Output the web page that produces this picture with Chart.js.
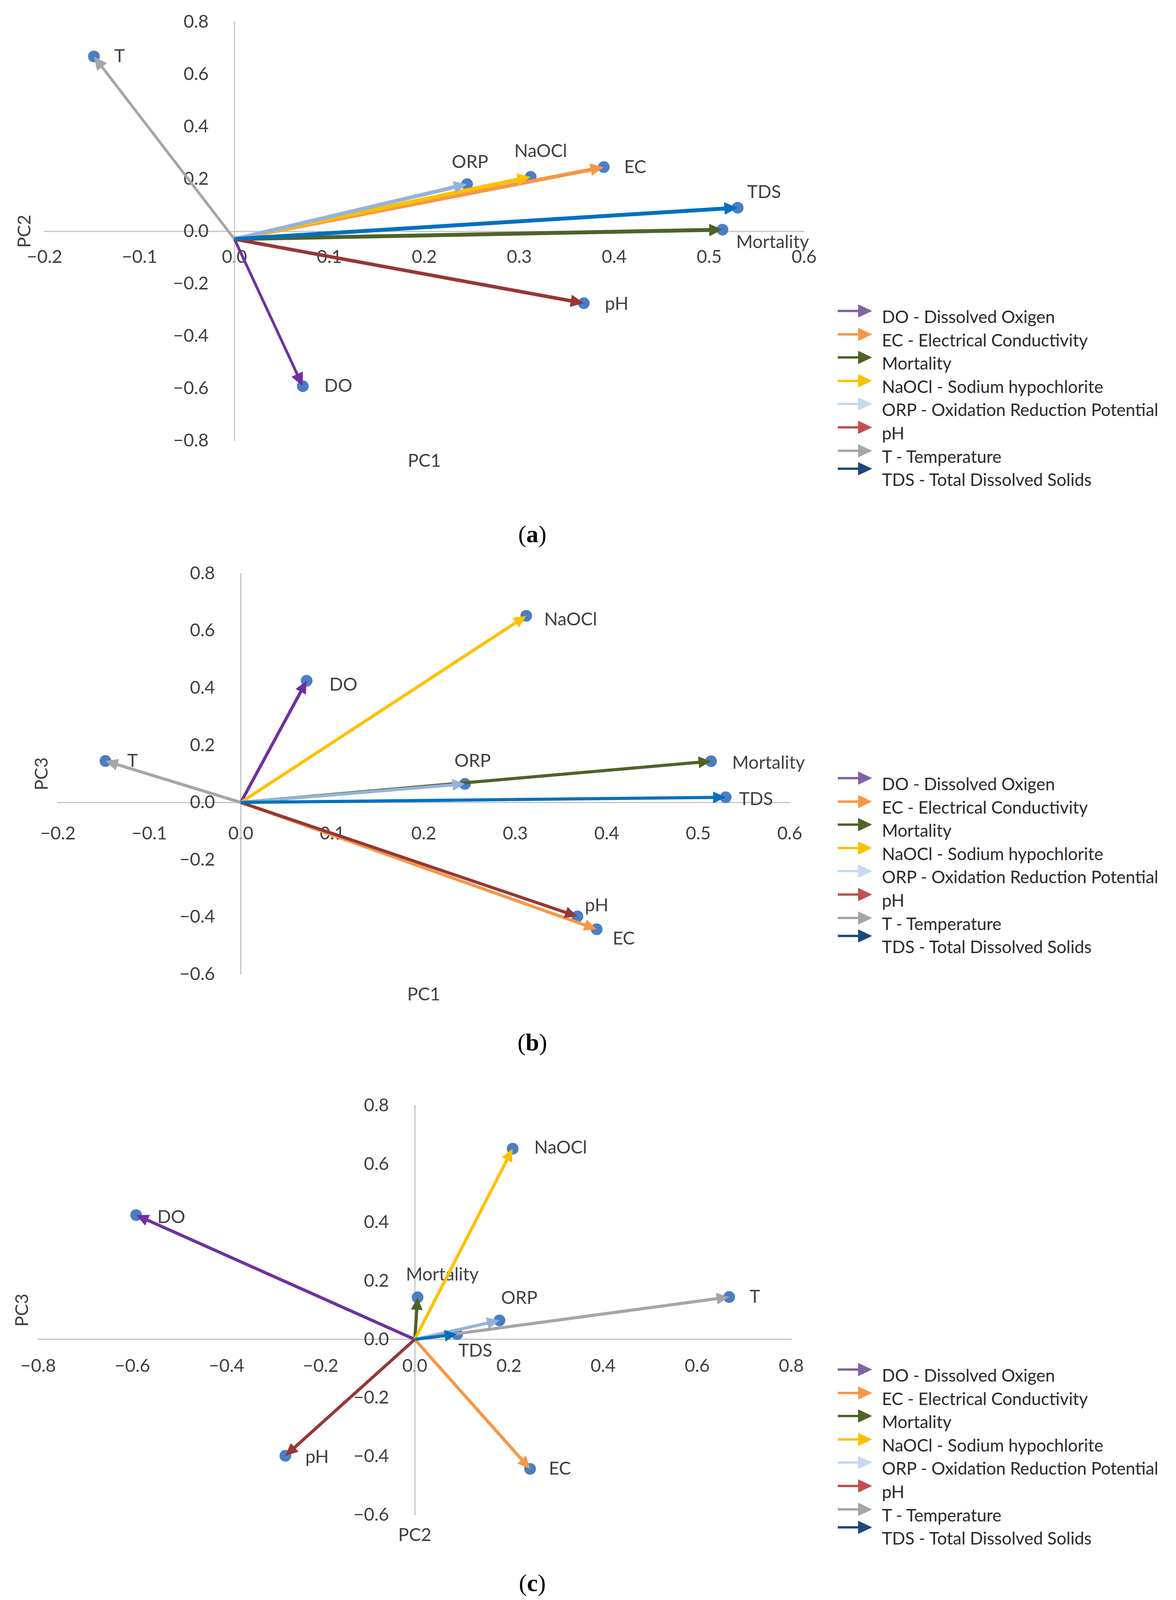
<!DOCTYPE html>
<html>
<head>
<meta charset="utf-8">
<title>PCA loading plots</title>
<script src="https://cdn.jsdelivr.net/npm/chart.js@4.4.1/dist/chart.umd.min.js"></script>
<style>
  html, body { margin: 0; padding: 0; background: #fff; }
  body { width: 3011px; height: 4184px; position: relative; overflow: hidden; font-family: Lato, sans-serif; }
  canvas { position: absolute; left: 0; }
  .legend { position: absolute; left: 2145px; font-size: 44px; color: #2b2b2b; }
  .legend .row { display: flex; align-items: center; height: 59.6px; white-space: nowrap; }
  .legend svg { width: 88px; height: 40px; margin-right: 25px; transform: translateY(-14px); flex: none; }
  .legend .row:last-child svg { transform: translateY(-27px); }
  .caption { position: absolute; left: 1213px; width: 300px; text-align: center; font-family: "Liberation Serif", serif; font-size: 62px; line-height: 80px; color: #000; }
</style>
</head>
<body>
<canvas id="chartA"></canvas>
<canvas id="chartB"></canvas>
<canvas id="chartC"></canvas>
<div class="caption" style="top:1327px">(<b>a</b>)</div>
<div class="caption" style="top:2628px">(<b>b</b>)</div>
<div class="caption" id="captionC" style="top:4058px">(<b>c</b>)</div>

<script>
// Variables and their loadings on the first three components
const variables = ['DO', 'EC', 'Mortality', 'NaOCl', 'ORP', 'pH', 'T', 'TDS'];
const legendLabels = [
    'DO - Dissolved Oxigen',
    'EC - Electrical Conductivity',
    'Mortality',
    'NaOCl - Sodium hypochlorite',
    'ORP - Oxidation Reduction Potential',
    'pH',
    'T - Temperature',
    'TDS - Total Dissolved Solids'
];
const pc1 = [0.072, 0.389, 0.514, 0.312, 0.245, 0.368, -0.148, 0.530];
const pc2 = [-0.592, 0.245, 0.006, 0.208, 0.180, -0.275, 0.668, 0.090];
const pc3 = [0.425, -0.443, 0.144, 0.652, 0.065, -0.398, 0.145, 0.018];

// Tick labels
const ticksPC1 = [-0.2, -0.1, 0.0, 0.1, 0.2, 0.3, 0.4, 0.5, 0.6];
const ticksPC2 = [-0.8, -0.6, -0.4, -0.2, 0.0, 0.2, 0.4, 0.6, 0.8];
const ticksPC3 = [-0.6, -0.4, -0.2, 0.0, 0.2, 0.4, 0.6, 0.8];

// Where the arrows start (panel a is drawn from slightly below the origin)
const originA = [0, -0.03];
const originB = [0, 0];
const originC = [0, 0];

// Colours
const arrowColors = ['#7030A0', '#F79646', '#4F6228', '#FFC000', '#95B3D7', '#953735', '#A6A6A6', '#0070C0'];
const legendColors = ['#8064A2', '#F79646', '#4F6228', '#FFC000', '#C6D9F1', '#C0504D', '#A5A5A5', '#1F497D'];
const pointColor = '#4A7EC4';
const textColor = '#404040';
const axisColor = '#C4C4C4';

const fmt = v => (v < -1e-9 ? '\u2212' : '') + Math.abs(v).toFixed(1);

const panels = [
    {
        id: 'chartA', top: 0, width: 2130, height: 1260,
        pad: { left: 114, right: 60, top: 56, bottom: 132 },
        xs: pc1, ys: pc2, xTicks: ticksPC1, yTicks: ticksPC2, origin: originA,
        xTitle: 'PC1', yTitle: 'PC2', yTitleGap: 51, xTickPad: 39,
        widths: [7, 10, 10, 10, 10, 9, 7, 10], headLength: 34, headWidth: 16,
        // [dx, dy] of each name from its point (left edge, vertical middle)
        labelOffsets: [[55, 0], [52, 0], [35, 32], [-42, -65], [-39, -56], [54, 2], [52, 0], [24, -40]],
        legendTop: 810
    },
    {
        id: 'chartB', top: 1380, width: 2130, height: 1240,
        pad: { left: 148, right: 108, top: 88, bottom: 126 },
        xs: pc1, ys: pc3, xTicks: ticksPC1, yTicks: ticksPC3, origin: originB,
        xTitle: 'PC1', yTitle: 'PC3', yTitleGap: 41, xTickPad: 52,
        widths: [8, 8, 8, 8, 8, 8, 8, 8], headLength: 32, headWidth: 15,
        labelOffsets: [[58, 10], [41, 24], [54, 4], [46, 10], [-27, -58], [19, -28], [56, 0], [34, 5]],
        legendTop: 2006
    },
    {
        id: 'chartC', top: 2750, width: 2130, height: 1240,
        pad: { left: 98, right: 104, top: 80, bottom: 112 },
        xs: pc2, ys: pc3, xTicks: ticksPC2, yTicks: ticksPC3, origin: originC,
        xTitle: 'PC2', yTitle: 'PC3', yTitleGap: 41, xTickPad: 41,
        widths: [8, 8, 8, 8, 8, 8, 8, 8], headLength: 32, headWidth: 15,
        labelOffsets: [[54, 5], [48, 0], [-30, -58], [55, -3], [4, -57], [51, 3], [52, 0], [3, 43]],
        legendTop: 3520
    }
];

// Arrow heads, axis titles, y tick labels and point names
const biplotPlugin = {
    id: 'biplot',
    beforeDatasetsDraw(chart, args, opts) {
        const { ctx, chartArea } = chart;
        const sx = chart.scales.x, sy = chart.scales.y;
        const x0 = sx.getPixelForValue(0);
        ctx.save();
        ctx.font = '46px Lato';
        ctx.fillStyle = textColor;

        // y tick labels next to the vertical axis
        ctx.textAlign = 'right';
        ctx.textBaseline = 'middle';
        sy.ticks.forEach(t => ctx.fillText(fmt(t.value), x0 - 66, sy.getPixelForValue(t.value)));

        // axis titles
        ctx.textAlign = 'center';
        ctx.fillText(opts.xTitle, (chartArea.left + chartArea.right) / 2, chartArea.bottom + 52);
        ctx.save();
        ctx.translate(chartArea.left - opts.yTitleGap, (chartArea.top + chartArea.bottom) / 2);
        ctx.rotate(-Math.PI / 2);
        ctx.fillText(opts.yTitle, 0, 0);
        ctx.restore();

        // variable names beside the points
        const pts = chart.getDatasetMeta(chart.data.datasets.length - 1).data;
        ctx.textAlign = 'left';
        pts.forEach((p, i) => {
            const [dx, dy] = opts.labelOffsets[i];
            ctx.fillText(variables[i], p.x + dx, p.y + dy);
        });
        ctx.restore();
    },
    beforeDatasetDraw(chart, args, opts) {
        const ds = chart.data.datasets[args.index];
        if (!ds.isArrow) return;
        const { ctx } = chart;
        const a = args.meta.data[0], b = args.meta.data[1];
        const ang = Math.atan2(b.y - a.y, b.x - a.x);
        const c = Math.cos(ang), s = Math.sin(ang);
        const lw = ds.borderWidth;
        const cut = opts.headLength * lw / (2 * opts.headWidth) + 3;
        // hide the square end of the shaft under the arrow head
        ctx.save();
        ctx.beginPath();
        ctx.rect(0, 0, chart.width, chart.height);
        [[4, -lw], [4, lw], [-cut, lw], [-cut, -lw]].forEach(([u, v], k) => {
            const px = b.x + u * c - v * s, py = b.y + u * s + v * c;
            if (k) ctx.lineTo(px, py); else ctx.moveTo(px, py);
        });
        ctx.closePath();
        ctx.clip('evenodd');
    },
    afterDatasetDraw(chart, args, opts) {
        const ds = chart.data.datasets[args.index];
        if (!ds.isArrow) return;
        const { ctx } = chart;
        ctx.restore();
        const a = args.meta.data[0], b = args.meta.data[1];
        const ang = Math.atan2(b.y - a.y, b.x - a.x);
        ctx.save();
        ctx.translate(b.x, b.y);
        ctx.rotate(ang);
        ctx.fillStyle = ds.borderColor;
        ctx.beginPath();
        ctx.moveTo(0, 0);
        ctx.lineTo(-opts.headLength, -opts.headWidth);
        ctx.lineTo(-opts.headLength, opts.headWidth);
        ctx.closePath();
        ctx.fill();
        ctx.restore();
    }
};

panels.forEach(p => {
    const canvas = document.getElementById(p.id);
    canvas.width = p.width;
    canvas.height = p.height;
    canvas.style.top = p.top + 'px';
    canvas.style.width = p.width + 'px';
    canvas.style.height = p.height + 'px';

    const arrows = variables.map((name, i) => ({
        label: name,
        isArrow: true,
        data: [{ x: p.origin[0], y: p.origin[1] }, { x: p.xs[i], y: p.ys[i] }],
        showLine: true,
        borderColor: arrowColors[i],
        borderWidth: p.widths[i],
        pointRadius: 0,
        order: 10 - i
    }));
    const points = {
        label: 'loadings',
        data: p.xs.map((x, i) => ({ x: x, y: p.ys[i] })),
        showLine: false,
        pointRadius: 15,
        pointBackgroundColor: pointColor,
        pointBorderWidth: 0,
        order: 20
    };

    new Chart(canvas, {
        type: 'scatter',
        data: { datasets: [...arrows, points] },
        plugins: [biplotPlugin],
        options: {
            responsive: false,
            devicePixelRatio: 1,
            animation: false,
            events: [],
            layout: { padding: p.pad },
            plugins: {
                legend: { display: false },
                tooltip: { enabled: false },
                biplot: {
                    xTitle: p.xTitle, yTitle: p.yTitle, yTitleGap: p.yTitleGap,
                    labelOffsets: p.labelOffsets,
                    headLength: p.headLength, headWidth: p.headWidth
                }
            },
            scales: {
                x: {
                    type: 'linear',
                    position: { y: 0 },
                    min: p.xTicks[0],
                    max: p.xTicks[p.xTicks.length - 1],
                    afterBuildTicks: s => { s.ticks = p.xTicks.map(v => ({ value: v })); },
                    ticks: {
                        callback: v => fmt(v),
                        font: { family: 'Lato', size: 46 },
                        color: textColor,
                        padding: p.xTickPad,
                        maxRotation: 0,
                        autoSkip: false
                    },
                    grid: { display: false, drawTicks: false },
                    border: { display: true, color: axisColor, width: 3 }
                },
                y: {
                    type: 'linear',
                    position: { x: 0 },
                    min: p.yTicks[0],
                    max: p.yTicks[p.yTicks.length - 1],
                    afterBuildTicks: s => { s.ticks = p.yTicks.map(v => ({ value: v })); },
                    ticks: { display: false },
                    grid: { display: false, drawTicks: false },
                    border: { display: true, color: axisColor, width: 3 }
                }
            }
        }
    });

    // legend with arrow keys
    const legend = document.createElement('div');
    legend.className = 'legend';
    legend.style.top = (p.legendTop - 29.8) + 'px';
    legendLabels.forEach((text, i) => {
        const row = document.createElement('div');
        row.className = 'row';
        row.innerHTML =
            '<svg viewBox="0 0 88 40"><line x1="0" y1="20" x2="56" y2="20" stroke="' + legendColors[i] +
            '" stroke-width="6"/><polygon points="52,3 88,20 52,37" fill="' + legendColors[i] + '"/></svg>' +
            '<span></span>';
        row.querySelector('span').textContent = text;
        legend.appendChild(row);
    });
    document.body.appendChild(legend);
});

// keep the last caption inside the visible window
const captionC = document.getElementById('captionC');
captionC.style.top = Math.min(4058, window.innerHeight - 84) + 'px';
</script>
</body>
</html>
